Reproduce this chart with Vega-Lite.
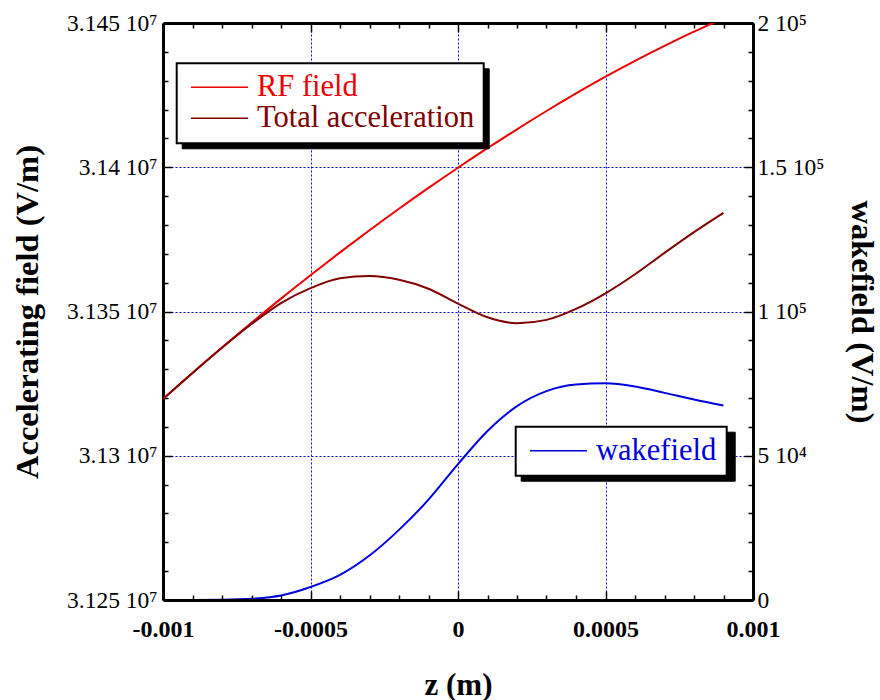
{
  "$schema": "https://vega.github.io/schema/vega-lite/v6.json",
  "width": 590,
  "height": 577,
  "autosize": {"type": "none"},
  "padding": {"left": 163, "top": 23, "right": 127, "bottom": 100},
  "background": "white",
  "config": {"view": {"stroke": null}, "font": "Liberation Serif"},
  "data": {
    "values": [
      {"z": -0.001, "series": "RF field", "value": 31319670},
      {"z": -0.0009, "series": "RF field", "value": 31328720},
      {"z": -0.0008, "series": "RF field", "value": 31337520},
      {"z": -0.0007, "series": "RF field", "value": 31346080},
      {"z": -0.0006, "series": "RF field", "value": 31354470},
      {"z": -0.0005, "series": "RF field", "value": 31362580},
      {"z": -0.0004, "series": "RF field", "value": 31370490},
      {"z": -0.0003, "series": "RF field", "value": 31378180},
      {"z": -0.0002, "series": "RF field", "value": 31385630},
      {"z": -0.0001, "series": "RF field", "value": 31392840},
      {"z": 0, "series": "RF field", "value": 31399840},
      {"z": 0.0001, "series": "RF field", "value": 31406600},
      {"z": 0.0002, "series": "RF field", "value": 31413150},
      {"z": 0.0003, "series": "RF field", "value": 31419500},
      {"z": 0.0004, "series": "RF field", "value": 31425600},
      {"z": 0.0005, "series": "RF field", "value": 31431400},
      {"z": 0.0006, "series": "RF field", "value": 31436900},
      {"z": 0.0007, "series": "RF field", "value": 31442100},
      {"z": 0.0008, "series": "RF field", "value": 31447000},
      {"z": 0.0009, "series": "RF field", "value": 31451600},
      {"z": -0.001, "series": "Total acceleration", "value": 31319670},
      {"z": -0.0009, "series": "Total acceleration", "value": 31328720},
      {"z": -0.0008, "series": "Total acceleration", "value": 31337440},
      {"z": -0.0007, "series": "Total acceleration", "value": 31345660},
      {"z": -0.0006, "series": "Total acceleration", "value": 31352920},
      {"z": -0.0005, "series": "Total acceleration", "value": 31358080},
      {"z": -0.0004, "series": "Total acceleration", "value": 31361500},
      {"z": -0.0003, "series": "Total acceleration", "value": 31362300},
      {"z": -0.0002, "series": "Total acceleration", "value": 31361000},
      {"z": -0.0001, "series": "Total acceleration", "value": 31357900},
      {"z": 0, "series": "Total acceleration", "value": 31352740},
      {"z": 0.0001, "series": "Total acceleration", "value": 31348000},
      {"z": 0.0002, "series": "Total acceleration", "value": 31345950},
      {"z": 0.0003, "series": "Total acceleration", "value": 31347100},
      {"z": 0.0004, "series": "Total acceleration", "value": 31350900},
      {"z": 0.0005, "series": "Total acceleration", "value": 31356300},
      {"z": 0.0006, "series": "Total acceleration", "value": 31362900},
      {"z": 0.0007, "series": "Total acceleration", "value": 31370300},
      {"z": 0.0008, "series": "Total acceleration", "value": 31377500},
      {"z": 0.0009, "series": "Total acceleration", "value": 31384200},
      {"z": -0.001, "series": "wakefield", "value": 0},
      {"z": -0.0009, "series": "wakefield", "value": 0},
      {"z": -0.0008, "series": "wakefield", "value": 80},
      {"z": -0.0007, "series": "wakefield", "value": 420},
      {"z": -0.0006, "series": "wakefield", "value": 1550},
      {"z": -0.0005, "series": "wakefield", "value": 4500},
      {"z": -0.0004, "series": "wakefield", "value": 8700},
      {"z": -0.0003, "series": "wakefield", "value": 15400},
      {"z": -0.0002, "series": "wakefield", "value": 24300},
      {"z": -0.0001, "series": "wakefield", "value": 34800},
      {"z": 0, "series": "wakefield", "value": 47100},
      {"z": 0.0001, "series": "wakefield", "value": 58600},
      {"z": 0.0002, "series": "wakefield", "value": 67200},
      {"z": 0.0003, "series": "wakefield", "value": 72400},
      {"z": 0.0004, "series": "wakefield", "value": 74700},
      {"z": 0.0005, "series": "wakefield", "value": 75100},
      {"z": 0.0006, "series": "wakefield", "value": 74000},
      {"z": 0.0007, "series": "wakefield", "value": 71800},
      {"z": 0.0008, "series": "wakefield", "value": 69500},
      {"z": 0.0009, "series": "wakefield", "value": 67400}
    ]
  },
  "layer": [
    {
      "transform": [{"filter": "datum.series !== 'wakefield'"}],
      "mark": {"type": "line", "strokeWidth": 2, "interpolate": "monotone", "clip": true},
      "encoding": {
        "x": {
          "field": "z", "type": "quantitative",
          "scale": {"domain": [-0.001, 0.001], "nice": false, "zero": false},
          "axis": {
            "orient": "bottom",
            "values": [-0.001,-0.0009,-0.0008,-0.0007,-0.0006,-0.0005,-0.0004,-0.0003,-0.0002,-0.0001,0,0.0001,0.0002,0.0003,0.0004,0.0005,0.0006,0.0007,0.0008,0.0009,0.001],
            "labelExpr": "abs(round(datum.value*10000)) % 5 == 0 ? '' + datum.value : ''",
            "labelFont": "Liberation Serif", "labelFontSize": 24, "labelFontWeight": "bold", "labelColor": "black",
            "labelPadding": 26, "labelOverlap": false, "labelFlush": false, "labelBound": false,
            "tickSize": {"condition": {"test": "abs(round(datum.value*10000)) % 5 == 0", "value": -9}, "value": -5},
            "tickColor": "black", "tickWidth": 1.5,
            "domainColor": "black", "domainWidth": 3,
            "grid": false,
            "title": "z (m)", "titleFont": "Liberation Serif", "titleFontSize": 31, "titleFontWeight": "bold", "titleColor": "black",
            "titlePadding": 25,
            "zindex": 1
          }
        },
        "y": {
          "field": "value", "type": "quantitative",
          "scale": {"domain": [31250000, 31450000], "nice": false, "zero": false},
          "axis": {
            "orient": "left",
            "values": [31250000,31260000,31270000,31280000,31290000,31300000,31310000,31320000,31330000,31340000,31350000,31360000,31370000,31380000,31390000,31400000,31410000,31420000,31430000,31440000,31450000],
            "labelExpr": "datum.value % 50000 == 0 ? format(datum.value/10000000, '.3~f') + ' 10⁷' : ''",
            "labelFont": "Liberation Serif", "labelFontSize": 23.5, "labelColor": "black",
            "labelPadding": 15, "labelOverlap": false, "labelFlush": false, "labelBound": false,
            "tickSize": {"condition": {"test": "datum.value % 50000 == 0", "value": -9}, "value": -5},
            "tickColor": "black", "tickWidth": 1.5,
            "domainColor": "black", "domainWidth": 3,
            "grid": true, "gridColor": "#0000ff", "gridDash": [2, 2], "gridWidth": 1,
            "gridOpacity": {"condition": {"test": "datum.value % 50000 == 0 && datum.value > 31250000 && datum.value < 31450000", "value": 1}, "value": 0},
            "title": "Accelerating field (V/m)", "titleFont": "Liberation Serif", "titleFontSize": 32.5, "titleFontWeight": "bold", "titleColor": "black",
            "titlePadding": 22
          }
        },
        "color": {
          "field": "series", "type": "nominal",
          "scale": {"domain": ["RF field", "Total acceleration"], "range": ["#ee0000", "#800000"]},
          "legend": {
            "title": null, "orient": "none", "legendX": 13.7, "legendY": 40.3,
            "symbolType": "stroke", "symbolSize": 3249, "symbolStrokeWidth": 1.5, "symbolOffset": 3.8,
            "labelFont": "Liberation Serif", "labelFontSize": 30.5, "labelOffset": 8, "labelLimit": 500,
            "padding": 9.5, "rowPadding": 0, "clipHeight": 29,
            "fillColor": "white", "strokeColor": "black",
            "zindex": 2,
            "encode": {
              "legend": {"update": {"strokeWidth": {"value": 2}}},
              "labels": {"update": {"fill": [{"test": "datum.value === 'RF field'", "value": "#ee0000"}, {"value": "#800000"}]}}
            }
          }
        },
        "opacity": {
          "field": "series", "type": "nominal",
          "scale": {"range": [1, 1]},
          "legend": {
            "title": null, "orient": "none", "legendX": 18.7, "legendY": 45.3,
            "symbolType": "stroke", "symbolSize": 79299, "symbolStrokeWidth": 1.5, "symbolOffset": 3.8, "symbolStrokeColor": "black",
            "labelExpr": "''", "labelOffset": 0, "labelFontSize": 30.5,
            "padding": 9.5, "rowPadding": 0, "clipHeight": 29,
            "fillColor": "black", "strokeColor": "black",
            "zindex": 1
          }
        }
      }
    },
    {
      "transform": [{"filter": "datum.series === 'wakefield'"}],
      "mark": {"type": "line", "strokeWidth": 2, "interpolate": "monotone", "clip": true},
      "encoding": {
        "x": {
          "field": "z", "type": "quantitative",
          "scale": {"domain": [-0.001, 0.001], "nice": false, "zero": false},
          "axis": {
            "orient": "top",
            "values": [-0.001,-0.0009,-0.0008,-0.0007,-0.0006,-0.0005,-0.0004,-0.0003,-0.0002,-0.0001,0,0.0001,0.0002,0.0003,0.0004,0.0005,0.0006,0.0007,0.0008,0.0009,0.001],
            "labels": false,
            "tickSize": {"condition": {"test": "abs(round(datum.value*10000)) % 5 == 0", "value": -9}, "value": -5},
            "tickColor": "black", "tickWidth": 1.5,
            "domainColor": "black", "domainWidth": 3,
            "grid": true, "gridColor": "#0000ff", "gridDash": [2, 2], "gridWidth": 1,
            "gridOpacity": {"condition": {"test": "abs(round(datum.value*10000)) % 5 == 0 && abs(datum.value) < 0.00099", "value": 1}, "value": 0},
            "title": null
          }
        },
        "y": {
          "field": "value", "type": "quantitative",
          "scale": {"domain": [0, 200000], "nice": false, "zero": false},
          "axis": {
            "orient": "right",
            "values": [0,10000,20000,30000,40000,50000,60000,70000,80000,90000,100000,110000,120000,130000,140000,150000,160000,170000,180000,190000,200000],
            "labelExpr": "datum.value == 0 ? '0' : datum.value == 50000 ? '5 10⁴' : datum.value % 50000 == 0 ? format(datum.value/100000, '~g') + ' 10⁵' : ''",
            "labelFont": "Liberation Serif", "labelFontSize": 23.5, "labelColor": "black",
            "labelPadding": 13, "labelOverlap": false, "labelFlush": false, "labelBound": false,
            "tickSize": {"condition": {"test": "datum.value % 50000 == 0", "value": -9}, "value": -5},
            "tickColor": "black", "tickWidth": 1.5,
            "domainColor": "black", "domainWidth": 3,
            "grid": false,
            "title": "wakefield (V/m)", "titleFont": "Liberation Serif", "titleFontSize": 32.5, "titleFontWeight": "bold", "titleColor": "black",
            "titlePadding": 21
          }
        },
        "color": {
          "field": "series", "type": "nominal",
          "scale": {"domain": ["wakefield"], "range": ["#0000dd"]},
          "legend": {
            "title": null, "orient": "none", "legendX": 352.7, "legendY": 403.7,
            "symbolType": "stroke", "symbolSize": 3249, "symbolStrokeWidth": 1.5, "symbolOffset": 3.8,
            "labelFont": "Liberation Serif", "labelFontSize": 30.5, "labelOffset": 8, "labelLimit": 500, "labelColor": "#0000dd",
            "padding": 9.5, "clipHeight": 29,
            "fillColor": "white", "strokeColor": "black",
            "zindex": 2,
            "encode": {"legend": {"update": {"strokeWidth": {"value": 2}}}}
          }
        },
        "opacity": {
          "field": "series", "type": "nominal",
          "scale": {"range": [1, 1]},
          "legend": {
            "title": null, "orient": "none", "legendX": 357.7, "legendY": 408.7,
            "symbolType": "stroke", "symbolSize": 35570, "symbolStrokeWidth": 1.5, "symbolOffset": 3.8, "symbolStrokeColor": "black",
            "labelExpr": "''", "labelOffset": 0, "labelFontSize": 30.5,
            "padding": 9.5, "clipHeight": 29,
            "fillColor": "black", "strokeColor": "black",
            "zindex": 1
          }
        }
      }
    }
  ],
  "resolve": {
    "scale": {"y": "independent", "color": "independent", "opacity": "independent"},
    "axis": {"x": "independent"}
  }
}
